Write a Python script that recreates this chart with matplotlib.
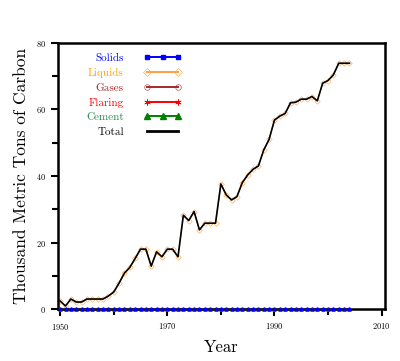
import matplotlib
matplotlib.use("Agg")
import matplotlib.pyplot as plt
from matplotlib.legend_handler import HandlerLine2D

plt.rcParams['font.family'] = ['cmr10', 'DejaVu Serif']
plt.rcParams['axes.formatter.use_mathtext'] = True
plt.rcParams['mathtext.fontset'] = 'cm'

years = list(range(1950, 2005))
liquids = [2.4, 0.9, 3.0, 2.1, 2.1, 3.0, 3.0, 3.0, 3.0, 3.9,
           5.1, 7.8, 10.8, 12.5, 15.2, 18.0, 18.0, 12.9, 17.2, 15.7,
           18.0, 18.0, 15.7, 28.2, 26.6, 29.3, 23.8, 25.8, 25.8, 25.8,
           37.6, 34.3, 32.8, 33.8, 38.0, 40.3, 42.0, 43.0, 47.8, 51.0,
           56.8, 58.0, 58.8, 62.0, 62.2, 63.1, 63.1, 63.9, 62.6, 67.9,
           68.7, 70.4, 73.9, 73.9, 73.9]
solids = [0.0] * len(years)
gases = [0.0] * len(years)
flaring = [0.0] * len(years)
cement = [0.0] * len(years)
total = [s + l + g + f + c for s, l, g, f, c in zip(solids, liquids, gases, flaring, cement)]

series_names = ["Solids", "Liquids", "Gases", "Flaring", "Cement", "Total"]
x_ticks = [1950, 1970, 1990, 2010]
y_ticks = [0, 20, 40, 60, 80]

fig = plt.figure(figsize=(4.0, 3.61), dpi=100)
ax = fig.add_axes([0.145, 0.144, 0.817, 0.737])

l_cem, = ax.plot(years, cement, color='green', marker='^', markersize=2.5,
                 lw=1.8, label=series_names[4], clip_on=False, zorder=2)
l_fla, = ax.plot(years, flaring, color='red', marker=(6, 2, 0), markersize=2.2,
                 mew=0.5, lw=0.8, label=series_names[3], clip_on=False, zorder=2.6)
l_gas, = ax.plot(years, gases, color='#a52a2a', marker='o', markersize=2.2,
                 mfc='none', mew=0.4, lw=0.8, label=series_names[2], clip_on=False, zorder=2.7)
l_liq, = ax.plot(years, liquids, color='#ffa040', marker='D', markersize=2.8,
                 mfc='none', mew=0.4, lw=0.8, label=series_names[1], clip_on=False, zorder=2.5)
l_sol, = ax.plot(years, solids, color='blue', marker='s', markersize=1.5, lw=0.8,
                 label=series_names[0], clip_on=False, zorder=3)
l_tot, = ax.plot(years, total, color='black', lw=1.2, label=series_names[5], zorder=4)

ax.set_xlim(1949.6, 2010.6)
ax.set_ylim(0, 80)
ax.set_xticks(x_ticks)
ax.set_xticks([1960, 1980, 2000], minor=True)
ax.set_yticks(y_ticks)
ax.set_yticks([10, 30, 50, 70], minor=True)
ax.tick_params(which='both', direction='out', width=1.5, labelsize=6)
ax.tick_params(which='major', length=5)
ax.tick_params(which='minor', length=4)
for sp in ax.spines.values():
    sp.set_linewidth(1.8)

ax.set_xlabel("Year", fontsize=12, labelpad=6)
ax.set_ylabel("Thousand Metric Tons of Carbon", fontsize=12.5, labelpad=5)

leg = ax.legend(handles=[l_sol, l_liq, l_gas, l_fla, l_cem, l_tot],
                loc='upper left', bbox_to_anchor=(0.055, 1.0), frameon=False,
                markerfirst=False, labelcolor='linecolor', fontsize=8,
                numpoints=2, handlelength=3.4, handletextpad=1.8,
                labelspacing=0.45,
                handler_map={l_sol: HandlerLine2D(numpoints=3),
                             l_cem: HandlerLine2D(numpoints=3)})
for t in leg.get_texts():
    if t.get_text() == "Cement":
        t.set_color('#2e8b57')
    if t.get_text() == "Liquids":
        t.set_color('#ffa500')
legend_marker_sizes = {"Solids": 2.5, "Liquids": 4.5, "Gases": 4.0,
                       "Flaring": 4.5, "Cement": 4.0}
for lh, t in zip(leg.get_lines(), leg.get_texts()):
    lh.set_linewidth(1.4)
    if t.get_text() in legend_marker_sizes:
        lh.set_markersize(legend_marker_sizes[t.get_text()])
    if t.get_text() == "Total":
        lh.set_linewidth(2.0)

fig.savefig("out.png", dpi=100)
